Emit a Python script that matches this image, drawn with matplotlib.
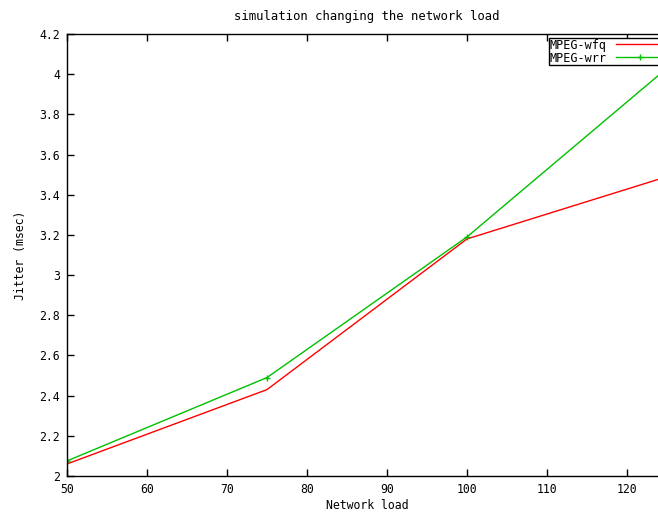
import matplotlib
matplotlib.use('Agg')
import matplotlib.pyplot as plt

load = [50, 75, 100, 125]
wfq = [2.06, 2.43, 3.18, 3.49]
wrr = [2.075, 2.49, 3.19, 4.03]

xticks = [50, 60, 70, 80, 90, 100, 110, 120]
yticks = [2, 2.2, 2.4, 2.6, 2.8, 3, 3.2, 3.4, 3.6, 3.8, 4, 4.2]

plt.rcParams['font.family'] = 'DejaVu Sans Mono'
fontsize = 8.3

W, H = 658, 512
fig = plt.figure(figsize=(W / 100, H / 100), dpi=100)
ax = fig.add_axes([67 / W, 36 / H, 600 / W, 442 / H])

ax.plot(load, wfq, color='#ff0000', lw=1, label='MPEG-wfq')
ax.plot(load, wrr, color='#00c000', lw=1, marker='+', ms=5, mew=1, label='MPEG-wrr')

ax.set_xlim(50, 125)
ax.set_ylim(2, 4.2)
ax.set_xticks(xticks)
ax.set_xticklabels([str(t) for t in xticks])
ax.set_yticks(yticks)
ax.set_yticklabels(['%g' % t for t in yticks])
ax.tick_params(direction='in', length=5, width=1, top=True, right=True,
               labelsize=fontsize, pad=5)
for s in ax.spines.values():
    s.set_linewidth(1)

ax.set_title('simulation changing the network load', fontsize=fontsize + 0.5, pad=10)
ax.set_xlabel('Network load', fontsize=fontsize, labelpad=2)
ax.set_ylabel('Jitter (msec)', fontsize=fontsize, labelpad=9)

leg = ax.legend(loc='upper left', bbox_to_anchor=(549 / W, 1 - 38 / H),
                bbox_transform=fig.transFigure, fontsize=fontsize + 0.2,
                markerfirst=False, fancybox=False, framealpha=1,
                borderpad=0.05, labelspacing=0.0, handlelength=4,
                handletextpad=0.8, borderaxespad=0)
leg.get_frame().set_edgecolor('black')
leg.get_frame().set_linewidth(1)

fig.savefig('out.png', dpi=100)
